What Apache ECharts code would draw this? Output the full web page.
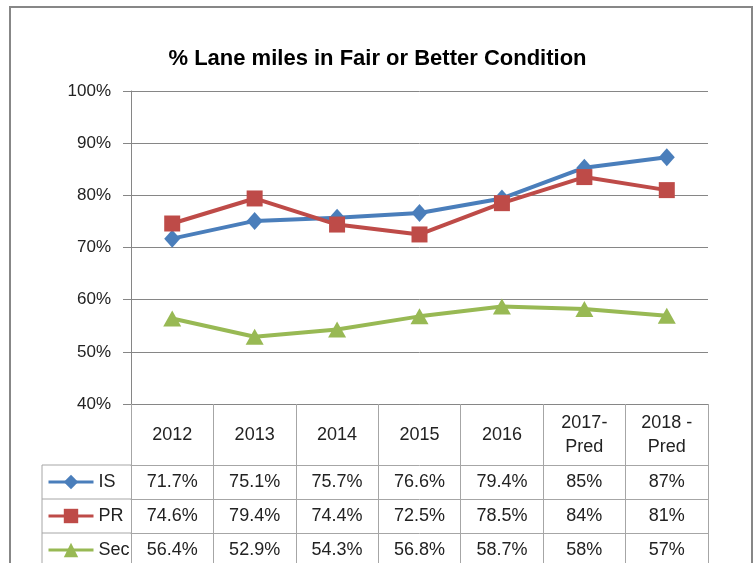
<!DOCTYPE html>
<html>
<head>
<meta charset="utf-8">
<script src="https://cdn.jsdelivr.net/npm/echarts@6/dist/echarts.min.js"></script>
<style>html,body{margin:0;padding:0;background:#fff;}#c{width:755px;height:563px;}</style>
</head>
<body>
<div id="c"></div>
<script>
const categories = ['2012', '2013', '2014', '2015', '2016', '2017-\nPred', '2018 -\nPred'];
const seriesNames = ['IS', 'PR', 'Sec'];
const isValues = [71.7, 75.1, 75.7, 76.6, 79.4, 85.3, 87.3];
const prValues = [74.6, 79.4, 74.4, 72.5, 78.5, 83.5, 81.0];
const secValues = [56.4, 52.9, 54.3, 56.8, 58.7, 58.2, 56.9];
const decimals = [1, 1, 1, 1, 1, 0, 0];
const yTicks = [40, 50, 60, 70, 80, 90, 100];

const FONT = 'Liberation Sans';
const fmt = (arr, i) => arr[i].toFixed(decimals[i]) + '%';

function rowAxis(arr, offset) {
  return {
    type: 'category', gridIndex: 0, position: 'bottom', offset: offset,
    data: categories,
    axisLine: { show: true, lineStyle: { color: '#a6a6a6', width: 1 } },
    axisTick: { show: true, interval: 0, length: 34, lineStyle: { color: '#a6a6a6' } },
    axisLabel: {
      interval: 0, margin: 17, verticalAlign: 'middle',
      fontFamily: FONT, fontSize: 18, color: '#222',
      formatter: (v, i) => fmt(arr, i)
    },
    splitLine: { show: false }
  };
}

const chart = echarts.init(document.getElementById('c'), null, { renderer: 'canvas' });
chart.setOption({
  backgroundColor: '#fff',
  animation: false,
  title: {
    text: '% Lane miles in Fair or Better Condition',
    left: 'center', top: 43,
    textStyle: { fontFamily: FONT, fontSize: 22, fontWeight: 'bold', color: '#000' }
  },
  legend: {
    data: seriesNames,
    orient: 'vertical', left: 47, top: 473, height: 120, padding: 0,
    itemWidth: 45, itemHeight: 18, itemGap: 16,
    lineStyle: { width: 3 },
    textStyle: { fontFamily: FONT, fontSize: 18, lineHeight: 18, color: '#222' }
  },
  grid: { left: 131, right: 47, top: 91, bottom: 159, containLabel: false },
  xAxis: [
    {
      type: 'category', gridIndex: 0, position: 'bottom',
      data: categories,
      axisLine: { show: true, lineStyle: { color: '#868686', width: 1 } },
      axisTick: { show: true, interval: 0, length: 61, lineStyle: { color: '#a6a6a6' } },
      axisLabel: {
        interval: 0, margin: 31, verticalAlign: 'middle', lineHeight: 24,
        fontFamily: FONT, fontSize: 18, color: '#222'
      },
      splitLine: { show: false }
    },
    rowAxis(isValues, 61),
    rowAxis(prValues, 95),
    rowAxis(secValues, 129)
  ],
  yAxis: {
    type: 'value', min: 40, max: 100, interval: 10,
    axisLine: { show: true, lineStyle: { color: '#868686' } },
    axisTick: { show: true, length: 8, lineStyle: { color: '#868686' } },
    axisLabel: {
      margin: 20, fontFamily: FONT, fontSize: 17, color: '#222',
      formatter: v => v + '%'
    },
    splitLine: { show: true, lineStyle: { color: '#868686', width: 1 } }
  },
  series: [
    {
      name: 'IS', type: 'line', data: isValues,
      symbol: 'diamond', symbolSize: [16, 18],
      lineStyle: { color: '#4a7ebb', width: 4 },
      itemStyle: { color: '#4a7ebb' }
    },
    {
      name: 'PR', type: 'line', data: prValues,
      symbol: 'rect', symbolSize: 16,
      lineStyle: { color: '#be4b48', width: 4 },
      itemStyle: { color: '#be4b48' }
    },
    {
      name: 'Sec', type: 'line', data: secValues,
      symbol: 'triangle', symbolSize: [18, 16],
      lineStyle: { color: '#98b954', width: 4 },
      itemStyle: { color: '#98b954' }
    }
  ],
  graphic: [
    { type: 'rect', shape: { x: 10, y: 7, width: 742, height: 600 }, style: { fill: 'none', stroke: '#878787', lineWidth: 2 }, silent: true, z: 100 },
    { type: 'line', shape: { x1: 42, y1: 465, x2: 131, y2: 465 }, style: { stroke: '#a6a6a6', lineWidth: 1 } },
    { type: 'line', shape: { x1: 42, y1: 499, x2: 131, y2: 499 }, style: { stroke: '#a6a6a6', lineWidth: 1 } },
    { type: 'line', shape: { x1: 42, y1: 533, x2: 131, y2: 533 }, style: { stroke: '#a6a6a6', lineWidth: 1 } },
    { type: 'line', shape: { x1: 42, y1: 465, x2: 42, y2: 570 }, style: { stroke: '#a6a6a6', lineWidth: 1 } }
  ]
});
</script>
</body>
</html>
